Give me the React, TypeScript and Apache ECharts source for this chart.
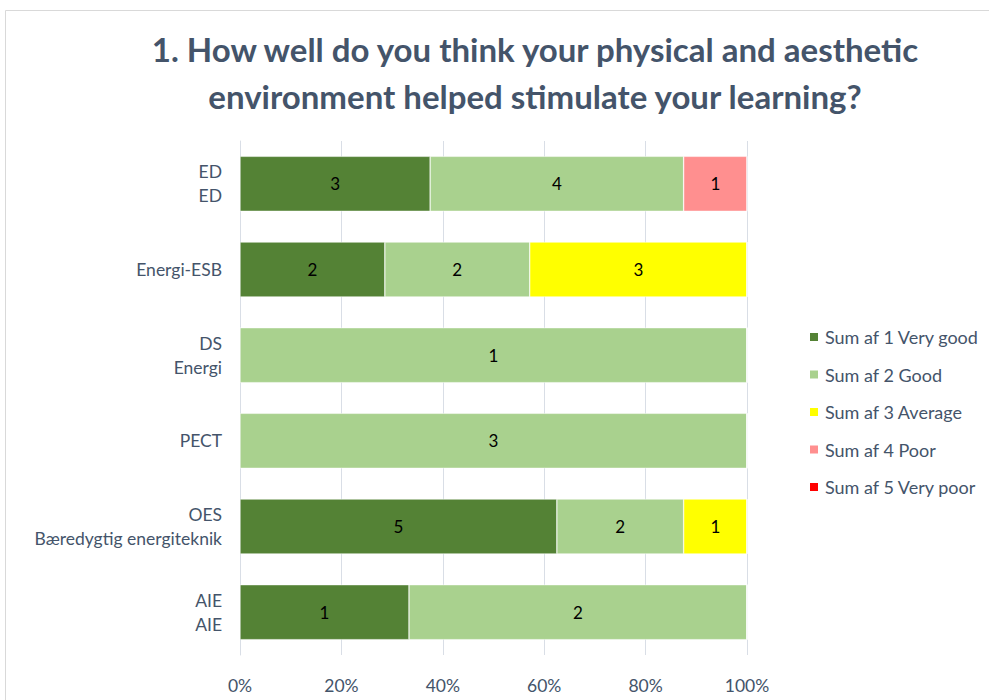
import React, { useEffect, useRef } from "react";
import * as echarts from "echarts";

const categories = ["ED\nED", "Energi-ESB", "DS\nEnergi", "PECT", "OES\nBæredygtig energiteknik", "AIE\nAIE"];
const seriesNames = ["Sum af 1 Very good", "Sum af 2 Good", "Sum af 3 Average", "Sum af 4 Poor", "Sum af 5 Very poor"];
const veryGood = [3, 2, 0, 0, 5, 1];
const good = [4, 2, 1, 3, 2, 2];
const average = [0, 3, 0, 0, 1, 0];
const poor = [1, 0, 0, 0, 0, 0];
const veryPoor = [0, 0, 0, 0, 0, 0];
const xTicks = ["0%", "20%", "40%", "60%", "80%", "100%"];
const colors = ["#548235", "#A9D18E", "#FFFF00", "#FF8F8F", "#FF0000"];

const TEXT = "#44546A";
const FONT = "Lato";

export default function App() {
  const ref = useRef<HTMLDivElement>(null);
  useEffect(() => {
    document.body.style.margin = "0";
    if (!ref.current) return;
    const chart = echarts.init(ref.current, undefined, { renderer: "svg" });
    const all = [veryGood, good, average, poor, veryPoor];
    const totals = categories.map((_, i) => all.reduce((s, arr) => s + arr[i], 0));
    chart.setOption({
      animation: false,
      backgroundColor: "#ffffff",
      textStyle: { fontFamily: FONT },
      title: {
        text: "1. How well do you think your physical and aesthetic\nenvironment helped stimulate your learning?",
        left: 530,
        textAlign: "center",
        top: 20,
        textStyle: { fontFamily: FONT, fontSize: 33, fontWeight: "bold", color: TEXT, lineHeight: 47 },
      },
      graphic: [
        {
          type: "rect",
          shape: { x: 5.5, y: 10.5, width: 1000, height: 720 },
          style: { fill: "none", stroke: "#D9D9D9", lineWidth: 1 },
          silent: true,
        },
      ],
      legend: {
        orient: "vertical",
        left: 803,
        top: 323,
        itemWidth: 10,
        itemHeight: 10,
        itemGap: 19.5,
        icon: "rect",
        textStyle: { fontFamily: FONT, fontSize: 18, lineHeight: 18, color: TEXT, padding: [0, 0, 0, 1] },
        data: seriesNames,
      },
      grid: { left: 240, right: 242, top: 141, bottom: 45, containLabel: false },
      xAxis: {
        type: "value",
        min: 0,
        max: 100,
        interval: 20,
        axisLine: { show: false },
        axisTick: { show: false },
        splitLine: { show: true, lineStyle: { color: "#D9DEE6", width: 1 } },
        axisLabel: {
          fontFamily: FONT,
          fontSize: 17.5,
          color: TEXT,
          margin: 21,
          formatter: (v: number) => xTicks[Math.round(v / 20)],
        },
      },
      yAxis: {
        type: "category",
        inverse: true,
        data: categories,
        axisLine: { show: true, lineStyle: { color: "#D9DEE6" } },
        axisTick: { show: false },
        axisLabel: { fontFamily: FONT, fontSize: 17.5, color: TEXT, margin: 18, lineHeight: 24, align: "right" },
      },
      series: all.map((arr, si) => ({
        name: seriesNames[si],
        type: "bar",
        stack: "total",
        barWidth: 55,
        itemStyle: { color: colors[si], borderColor: "#ffffff", borderWidth: 0.5 },
        label: {
          show: true,
          position: "inside",
          fontFamily: FONT,
          fontSize: 17,
          color: "#000000",
          formatter: (p: any) => (arr[p.dataIndex] > 0 ? String(arr[p.dataIndex]) : ""),
        },
        data: arr.map((v, i) => (totals[i] ? (v / totals[i]) * 100 : 0)),
      })),
    });
    return () => chart.dispose();
  }, []);
  return <div ref={ref} style={{ width: 989, height: 700 }} />;
}
